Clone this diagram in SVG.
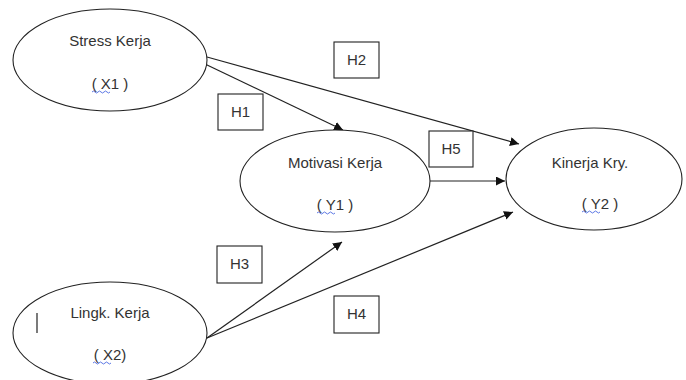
<svg xmlns="http://www.w3.org/2000/svg" width="686" height="380" viewBox="0 0 686 380">
<style>
.node ellipse{fill:#fff;stroke:#222;stroke-width:1.1}
.t{font-family:"Liberation Sans",Arial,sans-serif;font-size:15px;fill:#333;text-anchor:middle}
.box rect{fill:#fff;stroke:#222;stroke-width:1.1}
.conn line{stroke:#222;stroke-width:1.2;marker-end:url(#ah)}
.sq{fill:none;stroke:#3355dd;stroke-width:0.8}
</style>
<defs>
<marker id="ah" viewBox="0 0 10 10" refX="10" refY="5" markerWidth="9" markerHeight="9" markerUnits="userSpaceOnUse" orient="auto">
<path d="M0,0L10,5L0,10z" fill="#111"/>
</marker>
</defs>
<rect width="686" height="380" fill="#fff"/>
<g id="connectors" class="conn">
<line x1="205" y1="64" x2="343" y2="130"/>
<line x1="207" y1="57" x2="519" y2="144"/>
<line x1="430" y1="181" x2="505" y2="181"/>
<line x1="207" y1="338" x2="342" y2="242"/>
<line x1="207" y1="338" x2="513" y2="212"/>
</g>
<g id="stress" class="node">
<ellipse cx="110" cy="60" rx="97" ry="51"/>
<text class="t" x="110" y="46">Stress Kerja</text>
<text class="t" x="110" y="89">( X1 )</text>
<path class="sq" d="M92,92 q1.5,-2 3,0 t3,0 t3,0 t3,0 t3,0 t3,0"/>
</g>
<g id="motivasi" class="node">
<ellipse cx="335" cy="181" rx="95" ry="51"/>
<text class="t" x="335" y="168">Motivasi Kerja</text>
<text class="t" x="335" y="210">( Y1 )</text>
<path class="sq" d="M317,213 q1.5,-2 3,0 t3,0 t3,0 t3,0 t3,0 t3,0"/>
</g>
<g id="kinerja" class="node">
<ellipse cx="594" cy="179" rx="88" ry="51"/>
<text class="t" x="590" y="168">Kinerja Kry.</text>
<text class="t" x="600" y="209">( Y2 )</text>
<path class="sq" d="M582,212 q1.5,-2 3,0 t3,0 t3,0 t3,0 t3,0 t3,0"/>
</g>
<g id="lingk" class="node">
<ellipse cx="110" cy="333" rx="97" ry="51"/>
<text class="t" x="110" y="318">Lingk. Kerja</text>
<text class="t" x="110" y="360">( X2)</text>
<path class="sq" d="M93,363 q1.5,-2 3,0 t3,0 t3,0 t3,0 t3,0 t3,0"/>
<line x1="37" y1="313" x2="37" y2="333" stroke="#222" stroke-width="1.2"/>
</g>
<g id="h1" class="box"><rect x="218" y="94" width="45" height="36"/><text class="t" x="240.5" y="117">H1</text></g>
<g id="h2" class="box"><rect x="334" y="42" width="45" height="36"/><text class="t" x="356.5" y="65">H2</text></g>
<g id="h3" class="box"><rect x="217" y="246" width="45" height="37"/><text class="t" x="239.5" y="269">H3</text></g>
<g id="h4" class="box"><rect x="334" y="296" width="45" height="37"/><text class="t" x="356.5" y="319">H4</text></g>
<g id="h5" class="box"><rect x="429" y="131" width="44" height="36"/><text class="t" x="451" y="154">H5</text></g>
</svg>
